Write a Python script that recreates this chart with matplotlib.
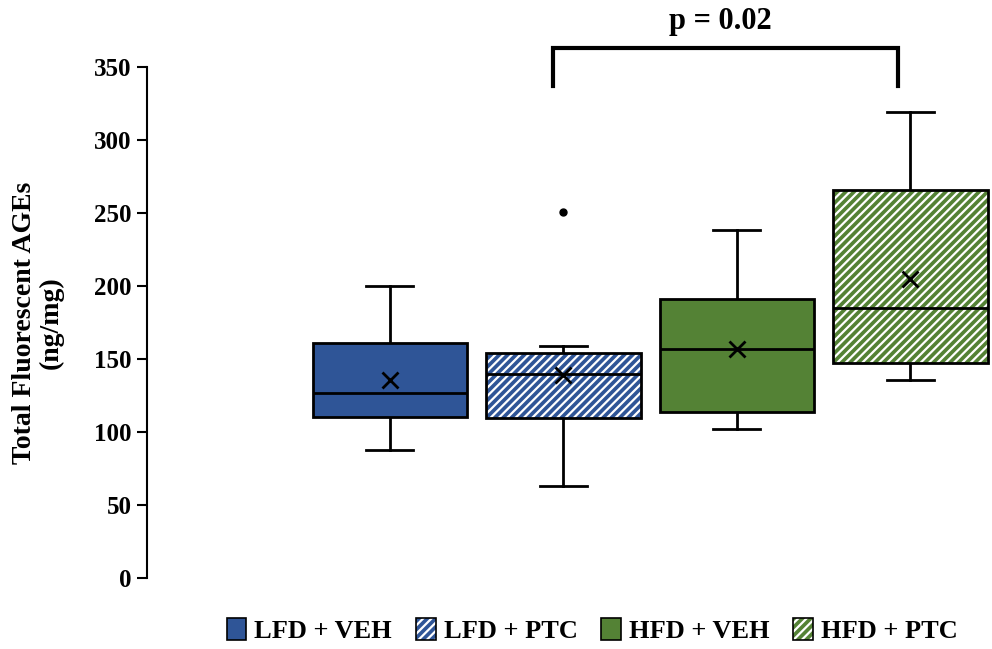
import matplotlib
matplotlib.use("Agg")
import matplotlib.pyplot as plt
from matplotlib.patches import PathPatch, Patch
from matplotlib.legend_handler import HandlerTuple

plt.rcParams['font.family'] = ['Liberation Serif', 'DejaVu Serif']
plt.rcParams['font.weight'] = 'bold'
plt.rcParams['hatch.linewidth'] = 1.6

groups = ['LFD + VEH', 'LFD + PTC', 'HFD + VEH', 'HFD + PTC']
colors = ['#2F5597', '#2F5597', '#548235', '#548235']
hatches = [None, '////', None, '////']

# box stats
whislo = [88, 63, 102, 136]
q1 = [110.5, 110, 114, 147]
med = [127, 140, 157, 185]
q3 = [161, 154, 191, 266]
whishi = [200, 159, 238, 319]
means = [135.5, 139, 157, 205]
fliers = [[], [251], [], []]

stats = []
for i in range(4):
    stats.append({'whislo': whislo[i], 'q1': q1[i], 'med': med[i], 'q3': q3[i],
                  'whishi': whishi[i], 'mean': means[i], 'fliers': fliers[i],
                  'label': groups[i]})

fig = plt.figure(figsize=(9.92, 6.49), dpi=100)
ax = fig.add_axes([0.148, 0.109, 0.852, 0.788])

bp = ax.bxp(stats, positions=[1, 2, 3, 4], widths=0.89, patch_artist=True,
            showmeans=True, showfliers=True, capwidths=0.27,
            boxprops=dict(facecolor='none', edgecolor='black', linewidth=2, zorder=4),
            medianprops=dict(color='black', linewidth=2, zorder=5),
            whiskerprops=dict(color='black', linewidth=2),
            capprops=dict(color='black', linewidth=2),
            meanprops=dict(marker='x', markeredgecolor='black', markersize=11,
                           markeredgewidth=2, zorder=6),
            flierprops=dict(marker='o', markerfacecolor='black',
                            markeredgecolor='black', markersize=5))

for box, c, h in zip(bp['boxes'], colors, hatches):
    fill = PathPatch(box.get_path(), facecolor=c, edgecolor='white',
                     hatch=h, linewidth=0, zorder=2)
    ax.add_patch(fill)

ax.set_xlim(-0.4, 4.47)
ax.set_ylim(0, 350)
ax.set_yticks(range(0, 351, 50))
ax.set_xticks([])
for s in ['top', 'right', 'bottom']:
    ax.spines[s].set_visible(False)
ax.spines['left'].set_linewidth(1.5)
ax.tick_params(axis='y', direction='out', length=7, width=1.5, labelsize=18, pad=4)
for lab in ax.get_yticklabels():
    lab.set_fontweight('bold')

ax.set_ylabel('Total Fluorescent AGEs\n(ng/mg)', fontsize=20, fontweight='bold',
              labelpad=22, linespacing=1.05)

# significance bracket
bx1, bx2, btop, bbot = 1.94, 3.93, 363, 337
ax.plot([bx1, bx1, bx2, bx2], [bbot, btop, btop, bbot], color='black', lw=3,
        clip_on=False, solid_joinstyle='miter')
ax.text((bx1 + bx2) / 2 - 0.03, 371, 'p = 0.02', ha='center', va='bottom',
        fontsize=22, fontweight='bold', clip_on=False)

handles = []
for c, h in zip(colors, hatches):
    fill = Patch(facecolor=c, edgecolor='white', hatch=h, linewidth=0)
    edge = Patch(facecolor='none', edgecolor='black', linewidth=1.2)
    handles.append((fill, edge))
fig.legend(handles, groups, loc='center', bbox_to_anchor=(0.597, 0.028),
           ncol=4, frameon=False, prop=dict(size=19, weight='bold'),
           handler_map={tuple: HandlerTuple(ndivide=1)},
           handlelength=0.75, handleheight=0.9, handletextpad=0.3,
           columnspacing=0.9)

fig.savefig('out.png', dpi=100)
